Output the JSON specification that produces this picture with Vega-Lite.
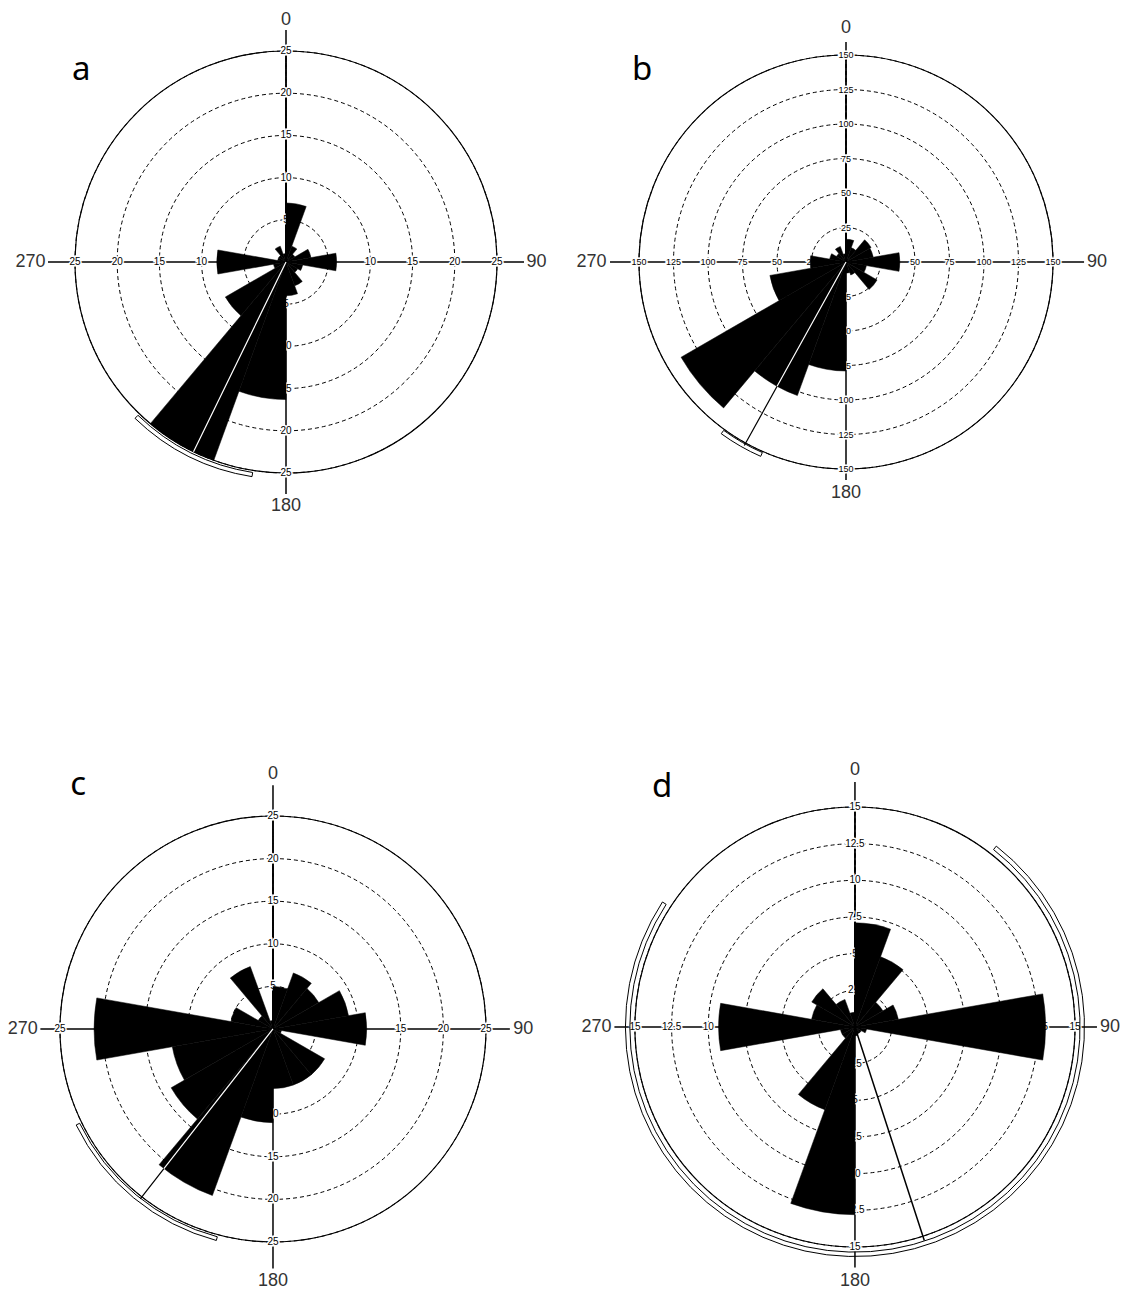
{
  "$schema": "https://vega.github.io/schema/vega-lite/v6.json",
  "padding": 0,
  "background": "white",
  "spacing": 0,
  "config": {"view": {"stroke": null}, "axis": {"disable": true}, "text": {"font": "Liberation Sans"}},
  "datasets": {
    "a_rings": [
      {"r": 5, "lab": "5", "ang": [0, 90, 180, 270]},
      {"r": 10, "lab": "10", "ang": [0, 90, 180, 270]},
      {"r": 15, "lab": "15", "ang": [0, 90, 180, 270]},
      {"r": 20, "lab": "20", "ang": [0, 90, 180, 270]},
      {"r": 25, "lab": "25", "ang": [0, 90, 180, 270]}
    ],
    "b_rings": [
      {"r": 25, "lab": "25", "ang": [0, 90, 180, 270]},
      {"r": 50, "lab": "50", "ang": [0, 90, 180, 270]},
      {"r": 75, "lab": "75", "ang": [0, 90, 180, 270]},
      {"r": 100, "lab": "100", "ang": [0, 90, 180, 270]},
      {"r": 125, "lab": "125", "ang": [0, 90, 180, 270]},
      {"r": 150, "lab": "150", "ang": [0, 90, 180, 270]}
    ],
    "c_rings": [
      {"r": 5, "lab": "5", "ang": [0, 90, 180, 270]},
      {"r": 10, "lab": "10", "ang": [0, 90, 180, 270]},
      {"r": 15, "lab": "15", "ang": [0, 90, 180, 270]},
      {"r": 20, "lab": "20", "ang": [0, 90, 180, 270]},
      {"r": 25, "lab": "25", "ang": [0, 90, 180, 270]}
    ],
    "d_rings": [
      {"r": 2.5, "lab": "2.5", "ang": [0, 90, 180, 270]},
      {"r": 5, "lab": "5", "ang": [0, 90, 180, 270]},
      {"r": 7.5, "lab": "7.5", "ang": [0, 90, 180, 270]},
      {"r": 10, "lab": "10", "ang": [0, 90, 180, 270]},
      {"r": 12.5, "lab": "12.5", "ang": [0, 90, 180, 270]},
      {"r": 15, "lab": "15", "ang": [0, 90, 180, 270]}
    ],
    "a_bins": [
      {"s": 0, "e": 20, "n": 7}, {"s": 20, "e": 40, "n": 2}, {"s": 40, "e": 60, "n": 1.2},
      {"s": 60, "e": 80, "n": 3}, {"s": 80, "e": 100, "n": 6}, {"s": 100, "e": 120, "n": 2},
      {"s": 120, "e": 140, "n": 1.6}, {"s": 140, "e": 160, "n": 3}, {"s": 160, "e": 180, "n": 4},
      {"s": 180, "e": 200, "n": 16.3}, {"s": 200, "e": 220, "n": 25}, {"s": 220, "e": 240, "n": 8.3},
      {"s": 240, "e": 260, "n": 1.5}, {"s": 260, "e": 280, "n": 8.2}, {"s": 280, "e": 300, "n": 1},
      {"s": 300, "e": 320, "n": 1}, {"s": 320, "e": 340, "n": 2}, {"s": 340, "e": 360, "n": 1}
    ],
    "b_bins": [
      {"s": 0, "e": 20, "n": 16.5}, {"s": 20, "e": 40, "n": 11}, {"s": 40, "e": 60, "n": 21},
      {"s": 60, "e": 80, "n": 20}, {"s": 80, "e": 100, "n": 39}, {"s": 100, "e": 120, "n": 15},
      {"s": 120, "e": 140, "n": 26}, {"s": 140, "e": 160, "n": 10}, {"s": 160, "e": 180, "n": 8},
      {"s": 180, "e": 200, "n": 79}, {"s": 200, "e": 220, "n": 103}, {"s": 220, "e": 240, "n": 138},
      {"s": 240, "e": 260, "n": 56}, {"s": 260, "e": 280, "n": 26}, {"s": 280, "e": 300, "n": 12},
      {"s": 300, "e": 320, "n": 8}, {"s": 320, "e": 340, "n": 12}, {"s": 340, "e": 360, "n": 6}
    ],
    "c_bins": [
      {"s": 0, "e": 20, "n": 5}, {"s": 20, "e": 40, "n": 7}, {"s": 40, "e": 60, "n": 6.2},
      {"s": 60, "e": 80, "n": 9}, {"s": 80, "e": 100, "n": 11}, {"s": 100, "e": 120, "n": 1},
      {"s": 120, "e": 140, "n": 7}, {"s": 140, "e": 160, "n": 7}, {"s": 160, "e": 180, "n": 7},
      {"s": 180, "e": 200, "n": 11}, {"s": 200, "e": 220, "n": 20.8}, {"s": 220, "e": 240, "n": 13.8},
      {"s": 240, "e": 260, "n": 12}, {"s": 260, "e": 280, "n": 21}, {"s": 280, "e": 300, "n": 5},
      {"s": 300, "e": 320, "n": 2}, {"s": 320, "e": 340, "n": 7.8}, {"s": 340, "e": 360, "n": 1}
    ],
    "d_bins": [
      {"s": 0, "e": 20, "n": 7.1}, {"s": 20, "e": 40, "n": 5.1}, {"s": 40, "e": 60, "n": 2.2},
      {"s": 60, "e": 80, "n": 3}, {"s": 80, "e": 100, "n": 13}, {"s": 100, "e": 120, "n": 0.8},
      {"s": 120, "e": 140, "n": 0.5}, {"s": 140, "e": 160, "n": 0.5}, {"s": 160, "e": 180, "n": 0.6},
      {"s": 180, "e": 200, "n": 12.8}, {"s": 200, "e": 220, "n": 6}, {"s": 220, "e": 240, "n": 1},
      {"s": 240, "e": 260, "n": 1}, {"s": 260, "e": 280, "n": 9.3}, {"s": 280, "e": 300, "n": 3},
      {"s": 300, "e": 320, "n": 3.4}, {"s": 320, "e": 340, "n": 2}, {"s": 340, "e": 360, "n": 1}
    ],
    "a_mean": [{"dir": 206, "len": 25, "w": 25}],
    "b_mean": [{"dir": 209, "len": 152, "w": 103}],
    "c_mean": [{"dir": 218, "len": 25.3, "w": 20.8}],
    "d_mean": [{"dir": 162, "len": 15.3, "w": 0}],
    "a_conf": [{"lo": 189, "hi": 224}],
    "b_conf": [{"lo": 203.7, "hi": 216}],
    "c_conf": [{"lo": 195, "hi": 244}],
    "d_conf": [{"lo": 38, "hi": 303}]
  },
  "vconcat": [
    {
      "spacing": 0,
      "hconcat": [
        {
          "width": 566, "height": 560,
          "layer": [
            {"data": {"name": "a_rings"},
             "mark": {"type": "arc", "filled": false, "stroke": "black", "strokeWidth": 1, "strokeDash": [4, 3]},
             "encoding": {
               "x": {"datum": 0, "type": "quantitative", "scale": {"domain": [-33.886, 33.175], "nice": false, "zero": false}, "axis": null},
               "y": {"datum": 0, "type": "quantitative", "scale": {"domain": [-35.308, 31.043], "nice": false, "zero": false}, "axis": null},
               "theta": {"datum": 0, "type": "quantitative", "scale": {"domain": [0, 360], "range": [0, 6.2831853]}},
               "theta2": {"datum": 360},
               "radius": {"field": "r", "type": "quantitative", "stack": null, "scale": {"type": "linear", "domain": [0, 25], "range": [0, 211], "zero": true}}
             }},
            {"data": {"values": [{}]},
             "mark": {"type": "arc", "filled": false, "stroke": "black", "strokeWidth": 1.2},
             "encoding": {"x": {"datum": 0, "type": "quantitative"}, "y": {"datum": 0, "type": "quantitative"},
               "theta": {"datum": 0, "type": "quantitative"}, "theta2": {"datum": 360}, "radius": {"datum": 25, "type": "quantitative"}}},
            {"data": {"values": [{}]}, "mark": {"type": "rule", "stroke": "black", "strokeWidth": 1.5},
             "encoding": {"x": {"datum": -28.2, "type": "quantitative"}, "x2": {"datum": 28.2}, "y": {"datum": 0, "type": "quantitative"}}},
            {"data": {"values": [{}]}, "mark": {"type": "rule", "stroke": "black", "strokeWidth": 1.5},
             "encoding": {"y": {"datum": -27.5, "type": "quantitative"}, "y2": {"datum": 27.5}, "x": {"datum": 0, "type": "quantitative"}}},
            {"data": {"name": "a_rings"}, "transform": [{"flatten": ["ang"]}],
             "mark": {"type": "text", "fontSize": 10, "fill": "white", "stroke": "white", "strokeWidth": 3},
             "encoding": {"x": {"datum": 0, "type": "quantitative"}, "y": {"datum": 0, "type": "quantitative"},
               "theta": {"field": "ang", "type": "quantitative", "stack": null}, "radius": {"field": "r", "type": "quantitative", "stack": null}, "text": {"field": "lab"}}},
            {"data": {"name": "a_rings"}, "transform": [{"flatten": ["ang"]}],
             "mark": {"type": "text", "fontSize": 10, "fill": "black"},
             "encoding": {"x": {"datum": 0, "type": "quantitative"}, "y": {"datum": 0, "type": "quantitative"},
               "theta": {"field": "ang", "type": "quantitative", "stack": null}, "radius": {"field": "r", "type": "quantitative", "stack": null}, "text": {"field": "lab"}}},
            {"data": {"name": "a_bins"},
             "mark": {"type": "arc", "fill": "black", "stroke": "black", "strokeWidth": 0.5},
             "encoding": {"x": {"datum": 0, "type": "quantitative"}, "y": {"datum": 0, "type": "quantitative"},
               "theta": {"field": "s", "type": "quantitative", "stack": null}, "theta2": {"field": "e"}, "radius": {"field": "n", "type": "quantitative", "stack": null}}},
            {"data": {"name": "a_mean"},
             "mark": {"type": "arc", "filled": false, "stroke": "black", "strokeWidth": 1.2},
             "encoding": {"x": {"datum": 0, "type": "quantitative"}, "y": {"datum": 0, "type": "quantitative"},
               "theta": {"field": "dir", "type": "quantitative", "stack": null}, "theta2": {"field": "dir"}, "radius": {"field": "len", "type": "quantitative", "stack": null}}},
            {"data": {"name": "a_mean"},
             "mark": {"type": "arc", "filled": false, "stroke": "white", "strokeWidth": 1.2},
             "encoding": {"x": {"datum": 0, "type": "quantitative"}, "y": {"datum": 0, "type": "quantitative"},
               "theta": {"field": "dir", "type": "quantitative", "stack": null}, "theta2": {"field": "dir"}, "radius": {"field": "w", "type": "quantitative", "stack": null}}},
            {"data": {"name": "a_conf"},
             "mark": {"type": "arc", "filled": false, "stroke": "black", "strokeWidth": 1},
             "encoding": {"x": {"datum": 0, "type": "quantitative"}, "y": {"datum": 0, "type": "quantitative"},
               "theta": {"field": "lo", "type": "quantitative", "stack": null}, "theta2": {"field": "hi"},
               "radius": {"datum": 25.75, "type": "quantitative"}, "radius2": {"datum": 25.25}}},
            {"data": {"values": [{"t": "0"}]}, "mark": {"type": "text", "fontSize": 18, "fill": "#333", "align": "center", "baseline": "alphabetic"},
             "encoding": {"x": {"datum": 0, "type": "quantitative"}, "y": {"datum": 28.1, "type": "quantitative"}, "text": {"field": "t"}}},
            {"data": {"values": [{"t": "180"}]}, "mark": {"type": "text", "fontSize": 18, "fill": "#333", "align": "center", "baseline": "top"},
             "encoding": {"x": {"datum": 0, "type": "quantitative"}, "y": {"datum": -27.85, "type": "quantitative"}, "text": {"field": "t"}}},
            {"data": {"values": [{"t": "270"}]}, "mark": {"type": "text", "fontSize": 18, "fill": "#333", "align": "right", "baseline": "middle"},
             "encoding": {"x": {"datum": -28.5, "type": "quantitative"}, "y": {"datum": 0, "type": "quantitative"}, "text": {"field": "t"}}},
            {"data": {"values": [{"t": "90"}]}, "mark": {"type": "text", "fontSize": 18, "fill": "#333", "align": "left", "baseline": "middle"},
             "encoding": {"x": {"datum": 28.5, "type": "quantitative"}, "y": {"datum": 0, "type": "quantitative"}, "text": {"field": "t"}}},
            {"data": {"values": [{"t": "a"}]}, "mark": {"type": "text", "fontSize": 33, "font": "Noto Sans", "fill": "black", "align": "left", "baseline": "alphabetic"},
             "encoding": {"x": {"datum": -25.36, "type": "quantitative"}, "y": {"datum": 21.56, "type": "quantitative"}, "text": {"field": "t"}}}
          ]
        },
        {
          "width": 565, "height": 560,
          "layer": [
            {"data": {"name": "b_rings"},
             "mark": {"type": "arc", "filled": false, "stroke": "black", "strokeWidth": 1, "strokeDash": [4, 3]},
             "encoding": {
               "x": {"datum": 0, "type": "quantitative", "scale": {"domain": [-202.9, 206.52], "nice": false, "zero": false}, "axis": null},
               "y": {"datum": 0, "type": "quantitative", "scale": {"domain": [-215.94, 189.86], "nice": false, "zero": false}, "axis": null},
               "theta": {"datum": 0, "type": "quantitative", "scale": {"domain": [0, 360], "range": [0, 6.2831853]}},
               "theta2": {"datum": 360},
               "radius": {"field": "r", "type": "quantitative", "stack": null, "scale": {"type": "linear", "domain": [0, 150], "range": [0, 207], "zero": true}}
             }},
            {"data": {"values": [{}]},
             "mark": {"type": "arc", "filled": false, "stroke": "black", "strokeWidth": 1.2},
             "encoding": {"x": {"datum": 0, "type": "quantitative"}, "y": {"datum": 0, "type": "quantitative"},
               "theta": {"datum": 0, "type": "quantitative"}, "theta2": {"datum": 360}, "radius": {"datum": 150, "type": "quantitative"}}},
            {"data": {"values": [{}]}, "mark": {"type": "rule", "stroke": "black", "strokeWidth": 1.5},
             "encoding": {"x": {"datum": -171, "type": "quantitative"}, "x2": {"datum": 172.5}, "y": {"datum": 0, "type": "quantitative"}}},
            {"data": {"values": [{}]}, "mark": {"type": "rule", "stroke": "black", "strokeWidth": 1.5},
             "encoding": {"y": {"datum": -158, "type": "quantitative"}, "y2": {"datum": 159.4}, "x": {"datum": 0, "type": "quantitative"}}},
            {"data": {"name": "b_rings"}, "transform": [{"flatten": ["ang"]}],
             "mark": {"type": "text", "fontSize": 9, "fill": "white", "stroke": "white", "strokeWidth": 3},
             "encoding": {"x": {"datum": 0, "type": "quantitative"}, "y": {"datum": 0, "type": "quantitative"},
               "theta": {"field": "ang", "type": "quantitative", "stack": null}, "radius": {"field": "r", "type": "quantitative", "stack": null}, "text": {"field": "lab"}}},
            {"data": {"name": "b_rings"}, "transform": [{"flatten": ["ang"]}],
             "mark": {"type": "text", "fontSize": 9, "fill": "black"},
             "encoding": {"x": {"datum": 0, "type": "quantitative"}, "y": {"datum": 0, "type": "quantitative"},
               "theta": {"field": "ang", "type": "quantitative", "stack": null}, "radius": {"field": "r", "type": "quantitative", "stack": null}, "text": {"field": "lab"}}},
            {"data": {"name": "b_bins"},
             "mark": {"type": "arc", "fill": "black", "stroke": "black", "strokeWidth": 0.5},
             "encoding": {"x": {"datum": 0, "type": "quantitative"}, "y": {"datum": 0, "type": "quantitative"},
               "theta": {"field": "s", "type": "quantitative", "stack": null}, "theta2": {"field": "e"}, "radius": {"field": "n", "type": "quantitative", "stack": null}}},
            {"data": {"name": "b_mean"},
             "mark": {"type": "arc", "filled": false, "stroke": "black", "strokeWidth": 1.2},
             "encoding": {"x": {"datum": 0, "type": "quantitative"}, "y": {"datum": 0, "type": "quantitative"},
               "theta": {"field": "dir", "type": "quantitative", "stack": null}, "theta2": {"field": "dir"}, "radius": {"field": "len", "type": "quantitative", "stack": null}}},
            {"data": {"name": "b_mean"},
             "mark": {"type": "arc", "filled": false, "stroke": "white", "strokeWidth": 1.2},
             "encoding": {"x": {"datum": 0, "type": "quantitative"}, "y": {"datum": 0, "type": "quantitative"},
               "theta": {"field": "dir", "type": "quantitative", "stack": null}, "theta2": {"field": "dir"}, "radius": {"field": "w", "type": "quantitative", "stack": null}}},
            {"data": {"name": "b_conf"},
             "mark": {"type": "arc", "filled": false, "stroke": "black", "strokeWidth": 1},
             "encoding": {"x": {"datum": 0, "type": "quantitative"}, "y": {"datum": 0, "type": "quantitative"},
               "theta": {"field": "lo", "type": "quantitative", "stack": null}, "theta2": {"field": "hi"},
               "radius": {"datum": 153.8, "type": "quantitative"}, "radius2": {"datum": 150.8}}},
            {"data": {"values": [{"t": "0"}]}, "mark": {"type": "text", "fontSize": 18, "fill": "#333", "align": "center", "baseline": "alphabetic"},
             "encoding": {"x": {"datum": 0, "type": "quantitative"}, "y": {"datum": 166, "type": "quantitative"}, "text": {"field": "t"}}},
            {"data": {"values": [{"t": "180"}]}, "mark": {"type": "text", "fontSize": 18, "fill": "#333", "align": "center", "baseline": "top"},
             "encoding": {"x": {"datum": 0, "type": "quantitative"}, "y": {"datum": -160.9, "type": "quantitative"}, "text": {"field": "t"}}},
            {"data": {"values": [{"t": "270"}]}, "mark": {"type": "text", "fontSize": 18, "fill": "#333", "align": "right", "baseline": "middle"},
             "encoding": {"x": {"datum": -173.5, "type": "quantitative"}, "y": {"datum": 0, "type": "quantitative"}, "text": {"field": "t"}}},
            {"data": {"values": [{"t": "90"}]}, "mark": {"type": "text", "fontSize": 18, "fill": "#333", "align": "left", "baseline": "middle"},
             "encoding": {"x": {"datum": 174.6, "type": "quantitative"}, "y": {"datum": 0, "type": "quantitative"}, "text": {"field": "t"}}},
            {"data": {"values": [{"t": "b"}]}, "mark": {"type": "text", "fontSize": 33, "font": "Noto Sans", "fill": "black", "align": "left", "baseline": "alphabetic"},
             "encoding": {"x": {"datum": -155.1, "type": "quantitative"}, "y": {"datum": 131.9, "type": "quantitative"}, "text": {"field": "t"}}}
          ]
        }
      ]
    },
    {
      "spacing": 0,
      "hconcat": [
        {
          "width": 566, "height": 737,
          "layer": [
            {"data": {"name": "c_rings"},
             "mark": {"type": "arc", "filled": false, "stroke": "black", "strokeWidth": 1, "strokeDash": [4, 3]},
             "encoding": {
               "x": {"datum": 0, "type": "quantitative", "scale": {"domain": [-32.04, 34.39], "nice": false, "zero": false}, "axis": null},
               "y": {"datum": 0, "type": "quantitative", "scale": {"domain": [-31.46, 55.05], "nice": false, "zero": false}, "axis": null},
               "theta": {"datum": 0, "type": "quantitative", "scale": {"domain": [0, 360], "range": [0, 6.2831853]}},
               "theta2": {"datum": 360},
               "radius": {"field": "r", "type": "quantitative", "stack": null, "scale": {"type": "linear", "domain": [0, 25], "range": [0, 213], "zero": true}}
             }},
            {"data": {"values": [{}]},
             "mark": {"type": "arc", "filled": false, "stroke": "black", "strokeWidth": 1.2},
             "encoding": {"x": {"datum": 0, "type": "quantitative"}, "y": {"datum": 0, "type": "quantitative"},
               "theta": {"datum": 0, "type": "quantitative"}, "theta2": {"datum": 360}, "radius": {"datum": 25, "type": "quantitative"}}},
            {"data": {"values": [{}]}, "mark": {"type": "rule", "stroke": "black", "strokeWidth": 1.5},
             "encoding": {"x": {"datum": -27.3, "type": "quantitative"}, "x2": {"datum": 27.8}, "y": {"datum": 0, "type": "quantitative"}}},
            {"data": {"values": [{}]}, "mark": {"type": "rule", "stroke": "black", "strokeWidth": 1.5},
             "encoding": {"y": {"datum": -28.1, "type": "quantitative"}, "y2": {"datum": 28.6}, "x": {"datum": 0, "type": "quantitative"}}},
            {"data": {"name": "c_rings"}, "transform": [{"flatten": ["ang"]}],
             "mark": {"type": "text", "fontSize": 10, "fill": "white", "stroke": "white", "strokeWidth": 3},
             "encoding": {"x": {"datum": 0, "type": "quantitative"}, "y": {"datum": 0, "type": "quantitative"},
               "theta": {"field": "ang", "type": "quantitative", "stack": null}, "radius": {"field": "r", "type": "quantitative", "stack": null}, "text": {"field": "lab"}}},
            {"data": {"name": "c_rings"}, "transform": [{"flatten": ["ang"]}],
             "mark": {"type": "text", "fontSize": 10, "fill": "black"},
             "encoding": {"x": {"datum": 0, "type": "quantitative"}, "y": {"datum": 0, "type": "quantitative"},
               "theta": {"field": "ang", "type": "quantitative", "stack": null}, "radius": {"field": "r", "type": "quantitative", "stack": null}, "text": {"field": "lab"}}},
            {"data": {"name": "c_bins"},
             "mark": {"type": "arc", "fill": "black", "stroke": "black", "strokeWidth": 0.5},
             "encoding": {"x": {"datum": 0, "type": "quantitative"}, "y": {"datum": 0, "type": "quantitative"},
               "theta": {"field": "s", "type": "quantitative", "stack": null}, "theta2": {"field": "e"}, "radius": {"field": "n", "type": "quantitative", "stack": null}}},
            {"data": {"name": "c_mean"},
             "mark": {"type": "arc", "filled": false, "stroke": "black", "strokeWidth": 1.2},
             "encoding": {"x": {"datum": 0, "type": "quantitative"}, "y": {"datum": 0, "type": "quantitative"},
               "theta": {"field": "dir", "type": "quantitative", "stack": null}, "theta2": {"field": "dir"}, "radius": {"field": "len", "type": "quantitative", "stack": null}}},
            {"data": {"name": "c_mean"},
             "mark": {"type": "arc", "filled": false, "stroke": "white", "strokeWidth": 1.2},
             "encoding": {"x": {"datum": 0, "type": "quantitative"}, "y": {"datum": 0, "type": "quantitative"},
               "theta": {"field": "dir", "type": "quantitative", "stack": null}, "theta2": {"field": "dir"}, "radius": {"field": "w", "type": "quantitative", "stack": null}}},
            {"data": {"name": "c_conf"},
             "mark": {"type": "arc", "filled": false, "stroke": "black", "strokeWidth": 1},
             "encoding": {"x": {"datum": 0, "type": "quantitative"}, "y": {"datum": 0, "type": "quantitative"},
               "theta": {"field": "lo", "type": "quantitative", "stack": null}, "theta2": {"field": "hi"},
               "radius": {"datum": 25.7, "type": "quantitative"}, "radius2": {"datum": 25.25}}},
            {"data": {"values": [{"t": "0"}]}, "mark": {"type": "text", "fontSize": 18, "fill": "#333", "align": "center", "baseline": "alphabetic"},
             "encoding": {"x": {"datum": 0, "type": "quantitative"}, "y": {"datum": 29.3, "type": "quantitative"}, "text": {"field": "t"}}},
            {"data": {"values": [{"t": "180"}]}, "mark": {"type": "text", "fontSize": 18, "fill": "#333", "align": "center", "baseline": "top"},
             "encoding": {"x": {"datum": 0, "type": "quantitative"}, "y": {"datum": -28.5, "type": "quantitative"}, "text": {"field": "t"}}},
            {"data": {"values": [{"t": "270"}]}, "mark": {"type": "text", "fontSize": 18, "fill": "#333", "align": "right", "baseline": "middle"},
             "encoding": {"x": {"datum": -27.6, "type": "quantitative"}, "y": {"datum": 0, "type": "quantitative"}, "text": {"field": "t"}}},
            {"data": {"values": [{"t": "90"}]}, "mark": {"type": "text", "fontSize": 18, "fill": "#333", "align": "left", "baseline": "middle"},
             "encoding": {"x": {"datum": 28.2, "type": "quantitative"}, "y": {"datum": 0, "type": "quantitative"}, "text": {"field": "t"}}},
            {"data": {"values": [{"t": "c"}]}, "mark": {"type": "text", "fontSize": 33, "font": "Noto Sans", "fill": "black", "align": "left", "baseline": "alphabetic"},
             "encoding": {"x": {"datum": -23.8, "type": "quantitative"}, "y": {"datum": 27.5, "type": "quantitative"}, "text": {"field": "t"}}}
          ]
        },
        {
          "width": 565, "height": 737,
          "layer": [
            {"data": {"name": "d_rings"},
             "mark": {"type": "arc", "filled": false, "stroke": "black", "strokeWidth": 1, "strokeDash": [4, 3]},
             "encoding": {
               "x": {"datum": 0, "type": "quantitative", "scale": {"domain": [-19.7, 18.82], "nice": false, "zero": false}, "axis": null},
               "y": {"datum": 0, "type": "quantitative", "scale": {"domain": [-18.41, 31.84], "nice": false, "zero": false}, "axis": null},
               "theta": {"datum": 0, "type": "quantitative", "scale": {"domain": [0, 360], "range": [0, 6.2831853]}},
               "theta2": {"datum": 360},
               "radius": {"field": "r", "type": "quantitative", "stack": null, "scale": {"type": "linear", "domain": [0, 15], "range": [0, 220], "zero": true}}
             }},
            {"data": {"values": [{}]},
             "mark": {"type": "arc", "filled": false, "stroke": "black", "strokeWidth": 1.2},
             "encoding": {"x": {"datum": 0, "type": "quantitative"}, "y": {"datum": 0, "type": "quantitative"},
               "theta": {"datum": 0, "type": "quantitative"}, "theta2": {"datum": 360}, "radius": {"datum": 15, "type": "quantitative"}}},
            {"data": {"values": [{}]}, "mark": {"type": "rule", "stroke": "black", "strokeWidth": 1.5},
             "encoding": {"x": {"datum": -16.4, "type": "quantitative"}, "x2": {"datum": 16.5}, "y": {"datum": 0, "type": "quantitative"}}},
            {"data": {"values": [{}]}, "mark": {"type": "rule", "stroke": "black", "strokeWidth": 1.5},
             "encoding": {"y": {"datum": -16.4, "type": "quantitative"}, "y2": {"datum": 16.7}, "x": {"datum": 0, "type": "quantitative"}}},
            {"data": {"name": "d_rings"}, "transform": [{"flatten": ["ang"]}],
             "mark": {"type": "text", "fontSize": 10, "fill": "white", "stroke": "white", "strokeWidth": 3},
             "encoding": {"x": {"datum": 0, "type": "quantitative"}, "y": {"datum": 0, "type": "quantitative"},
               "theta": {"field": "ang", "type": "quantitative", "stack": null}, "radius": {"field": "r", "type": "quantitative", "stack": null}, "text": {"field": "lab"}}},
            {"data": {"name": "d_rings"}, "transform": [{"flatten": ["ang"]}],
             "mark": {"type": "text", "fontSize": 10, "fill": "black"},
             "encoding": {"x": {"datum": 0, "type": "quantitative"}, "y": {"datum": 0, "type": "quantitative"},
               "theta": {"field": "ang", "type": "quantitative", "stack": null}, "radius": {"field": "r", "type": "quantitative", "stack": null}, "text": {"field": "lab"}}},
            {"data": {"name": "d_bins"},
             "mark": {"type": "arc", "fill": "black", "stroke": "black", "strokeWidth": 0.5},
             "encoding": {"x": {"datum": 0, "type": "quantitative"}, "y": {"datum": 0, "type": "quantitative"},
               "theta": {"field": "s", "type": "quantitative", "stack": null}, "theta2": {"field": "e"}, "radius": {"field": "n", "type": "quantitative", "stack": null}}},
            {"data": {"name": "d_mean"},
             "mark": {"type": "arc", "filled": false, "stroke": "black", "strokeWidth": 1.5},
             "encoding": {"x": {"datum": 0, "type": "quantitative"}, "y": {"datum": 0, "type": "quantitative"},
               "theta": {"field": "dir", "type": "quantitative", "stack": null}, "theta2": {"field": "dir"}, "radius": {"field": "len", "type": "quantitative", "stack": null}}},
            {"data": {"name": "d_conf"},
             "mark": {"type": "arc", "filled": false, "stroke": "black", "strokeWidth": 1},
             "encoding": {"x": {"datum": 0, "type": "quantitative"}, "y": {"datum": 0, "type": "quantitative"},
               "theta": {"field": "lo", "type": "quantitative", "stack": null}, "theta2": {"field": "hi"},
               "radius": {"datum": 15.65, "type": "quantitative"}, "radius2": {"datum": 15.35}}},
            {"data": {"values": [{"t": "0"}]}, "mark": {"type": "text", "fontSize": 18, "fill": "#333", "align": "center", "baseline": "alphabetic"},
             "encoding": {"x": {"datum": 0, "type": "quantitative"}, "y": {"datum": 17.2, "type": "quantitative"}, "text": {"field": "t"}}},
            {"data": {"values": [{"t": "180"}]}, "mark": {"type": "text", "fontSize": 18, "fill": "#333", "align": "center", "baseline": "top"},
             "encoding": {"x": {"datum": 0, "type": "quantitative"}, "y": {"datum": -16.7, "type": "quantitative"}, "text": {"field": "t"}}},
            {"data": {"values": [{"t": "270"}]}, "mark": {"type": "text", "fontSize": 18, "fill": "#333", "align": "right", "baseline": "middle"},
             "encoding": {"x": {"datum": -16.6, "type": "quantitative"}, "y": {"datum": 0, "type": "quantitative"}, "text": {"field": "t"}}},
            {"data": {"values": [{"t": "90"}]}, "mark": {"type": "text", "fontSize": 18, "fill": "#333", "align": "left", "baseline": "middle"},
             "encoding": {"x": {"datum": 16.7, "type": "quantitative"}, "y": {"datum": 0, "type": "quantitative"}, "text": {"field": "t"}}},
            {"data": {"values": [{"t": "d"}]}, "mark": {"type": "text", "fontSize": 33, "font": "Noto Sans", "fill": "black", "align": "left", "baseline": "alphabetic"},
             "encoding": {"x": {"datum": -13.84, "type": "quantitative"}, "y": {"datum": 15.68, "type": "quantitative"}, "text": {"field": "t"}}}
          ]
        }
      ]
    }
  ]
}
